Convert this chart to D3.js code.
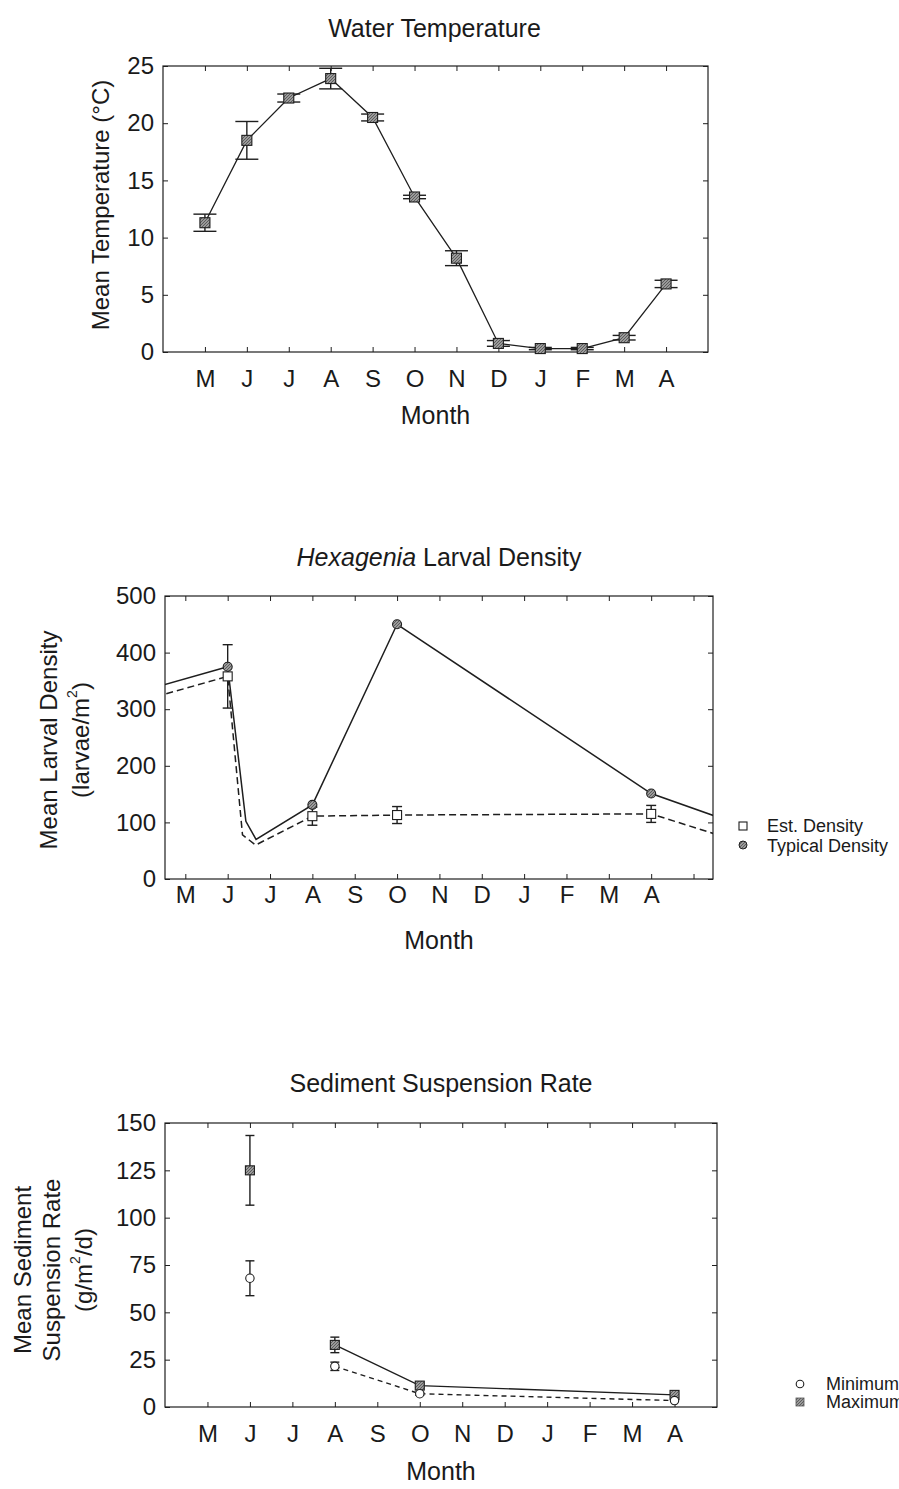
<!DOCTYPE html>
<html>
<head>
<meta charset="utf-8">
<script src="https://cdn.jsdelivr.net/npm/d3@7/dist/d3.min.js"></script>
<style>
  html, body { margin: 0; padding: 0; background: #fff; }
  svg { display: block; }
  text { font-family: "Liberation Sans", Arial, Helvetica, sans-serif; fill: #1a1a1a; }
</style>
</head>
<body>
<svg id="fig" width="899" height="1489"></svg>
<script>
// ---- shared month labels (May through April) ----
const monthLabels = ["M", "J", "J", "A", "S", "O", "N", "D", "J", "F", "M", "A"];
const monthIndex = [1, 2, 3, 4, 5, 6, 7, 8, 9, 10, 11, 12];

// ---- water temperature (°C), monthly means with error ----
const tempMean = [11.3, 18.5, 22.2, 23.9, 20.5, 13.55, 8.2, 0.75, 0.3, 0.3, 1.25, 5.95];
const tempErr  = [0.75, 1.65, 0.35, 0.9, 0.3, 0.15, 0.65, 0.25, 0.1, 0.1, 0.2, 0.32];
const tempTicks = [0, 5, 10, 15, 20, 25];

// ---- Hexagenia larval density (larvae/m²) ----
const densitySampleMonth = [2, 4, 6, 12];
const typicalDensity = [375, 131, 450, 151];
const estDensity     = [358, 111, 113, 115];
const estDensityErr  = [56, 16, 15, 15];
// line vertices (include the June–July decline and continuation past the frame)
const typicalLineMonth = [0.3, 2, 2.43, 2.67, 4, 6, 12, 13.7];
const typicalLineValue = [339, 375, 102, 70, 131, 450, 151, 106];
const estLineMonth     = [0.3, 2, 2.35, 2.66, 4, 6, 12, 13.7];
const estLineValue     = [322, 358, 78, 60, 111, 113, 115, 75];
const densityTicks = [0, 100, 200, 300, 400, 500];

// ---- sediment suspension rate (g/m²/d) ----
const sedimentMonth = [2, 4, 6, 12];
const maxRate = [125, 32.8, 11.3, 6.4];
const maxErr  = [18.4, 4.1, 1.0, 0.8];
const minRate = [68, 21.5, 7.0, 3.4];
const minErr  = [9.2, 2.2, 0.8, 0.5];
const sedimentTicks = [0, 25, 50, 75, 100, 125, 150];

const svg = d3.select("#fig");
const INK = "#1e1e1e";

// hatched grey fill used by the solid markers
const defs = svg.append("defs");
const pat = defs.append("pattern").attr("id", "hatch")
  .attr("patternUnits", "userSpaceOnUse").attr("width", 3).attr("height", 3);
pat.append("rect").attr("width", 3).attr("height", 3).attr("fill", "#9a9a9a");
pat.append("path").attr("d", "M0,3 L3,0").attr("stroke", "#555").attr("stroke-width", 0.9);

function frame(g, x, y, xTicks, yTicks, labelGap) {
  const [x0, x1] = x.range();
  const [y0, y1] = y.range();
  const xa = d3.axisBottom(x).tickValues(xTicks)
    .tickFormat(d => monthLabels[d - 1] || "")
    .tickSizeInner(-5).tickSizeOuter(0).tickPadding(labelGap);
  const ya = d3.axisLeft(y).tickValues(yTicks)
    .tickSizeInner(-5).tickSizeOuter(0).tickPadding(9);
  const gx = g.append("g").attr("transform", `translate(0,${y0})`).call(xa);
  const gy = g.append("g").attr("transform", `translate(${x0},0)`).call(ya);
  g.append("g").attr("transform", `translate(0,${y1})`)
    .call(d3.axisTop(x).tickValues(xTicks).tickFormat("").tickSizeInner(-5).tickSizeOuter(0));
  g.append("g").attr("transform", `translate(${x1},0)`)
    .call(d3.axisRight(y).tickValues(yTicks).tickFormat("").tickSizeInner(-5).tickSizeOuter(0));
  g.selectAll(".domain").remove();
  g.selectAll(".tick line").attr("stroke", INK).attr("stroke-width", 1);
  gx.selectAll("text").attr("font-size", 24).attr("fill", INK);
  gy.selectAll("text").attr("font-size", 24).attr("fill", INK);
  g.append("rect").attr("x", x0).attr("y", y1)
    .attr("width", x1 - x0).attr("height", y0 - y1)
    .attr("fill", "none").attr("stroke", INK).attr("stroke-width", 1.2);
}

function errorBars(g, xs, ys, es, x, y, capW) {
  const grp = g.append("g").attr("stroke", INK).attr("stroke-width", 1.4);
  xs.forEach((m, i) => {
    const cx = x(m), top = y(ys[i] + es[i]), bot = y(ys[i] - es[i]);
    grp.append("line").attr("x1", cx).attr("x2", cx).attr("y1", top).attr("y2", bot);
    grp.append("line").attr("x1", cx - capW / 2).attr("x2", cx + capW / 2).attr("y1", top).attr("y2", top);
    grp.append("line").attr("x1", cx - capW / 2).attr("x2", cx + capW / 2).attr("y1", bot).attr("y2", bot);
  });
}

function squares(g, xs, ys, x, y, size, fill) {
  g.append("g").selectAll("rect").data(xs).join("rect")
    .attr("x", (d) => x(d) - size / 2)
    .attr("y", (d, i) => y(ys[i]) - size / 2)
    .attr("width", size).attr("height", size)
    .attr("fill", fill).attr("stroke", INK).attr("stroke-width", 1.1);
}

function circles(g, xs, ys, x, y, r, fill) {
  g.append("g").selectAll("circle").data(xs).join("circle")
    .attr("cx", d => x(d)).attr("cy", (d, i) => y(ys[i])).attr("r", r)
    .attr("fill", fill).attr("stroke", INK).attr("stroke-width", 1.1);
}

function title(text, cx, baseline, italicWord) {
  const t = svg.append("text").attr("x", cx).attr("y", baseline)
    .attr("text-anchor", "middle").attr("font-size", 25).attr("fill", INK);
  if (italicWord) {
    t.append("tspan").attr("font-style", "italic").text(italicWord);
    t.append("tspan").text(text);
  } else {
    t.text(text);
  }
}

function xTitle(cx, baseline) {
  svg.append("text").attr("x", cx).attr("y", baseline).attr("text-anchor", "middle")
    .attr("font-size", 25).attr("fill", INK).text("Month");
}

function yTitle(lines, xs, cy) {
  lines.forEach((ln, i) => {
    const t = svg.append("text")
      .attr("transform", `translate(${xs[i]},${cy}) rotate(-90)`)
      .attr("text-anchor", "middle").attr("dominant-baseline", "central")
      .attr("font-size", 24).attr("fill", INK);
    ln.forEach(part => {
      const s = t.append("tspan").text(part.t);
      if (part.sup) s.attr("font-size", 14).attr("baseline-shift", "super");
    });
  });
}

const mid = s => (s.range()[0] + s.range()[1]) / 2;

// ================= Water Temperature =================
{
  const x = d3.scaleLinear().domain([0, 13]).range([163, 708]);
  const y = d3.scaleLinear().domain([0, 25]).range([352, 66]);
  const g = svg.append("g");
  frame(g, x, y, monthIndex, tempTicks, 18);
  const line = d3.line().x(d => x(d)).y((d, i) => y(tempMean[i]));
  g.append("path").attr("d", line(monthIndex))
    .attr("fill", "none").attr("stroke", INK).attr("stroke-width", 1.3);
  errorBars(g, monthIndex, tempMean, tempErr, x, y, 23);
  squares(g, monthIndex, tempMean, x, y, 10, "url(#hatch)");
  title("Water Temperature", mid(x) - 1, 37);
  xTitle(mid(x), 424);
  yTitle([[{ t: "Mean Temperature (°C)" }]], [100], 205);
}

// ================= Hexagenia Larval Density =================
{
  const x = d3.scaleLinear().domain([0.52, 13.46]).range([165, 713]);
  const y = d3.scaleLinear().domain([0, 500]).range([879, 596]);
  const g = svg.append("g");
  frame(g, x, y, monthIndex.concat([13]), densityTicks, 7);
  defs.append("clipPath").attr("id", "clipDensity").append("rect")
    .attr("x", 165).attr("y", 596).attr("width", 548).attr("height", 283);
  const lines = g.append("g").attr("clip-path", "url(#clipDensity)");
  const estLine = d3.line().x(d => x(d)).y((d, i) => y(estLineValue[i]));
  const typLine = d3.line().x(d => x(d)).y((d, i) => y(typicalLineValue[i]));
  lines.append("path").attr("d", estLine(estLineMonth))
    .attr("fill", "none").attr("stroke", INK).attr("stroke-width", 1.5)
    .attr("stroke-dasharray", "7,4");
  lines.append("path").attr("d", typLine(typicalLineMonth))
    .attr("fill", "none").attr("stroke", INK).attr("stroke-width", 1.5);
  errorBars(g, densitySampleMonth, estDensity, estDensityErr, x, y, 10);
  circles(g, densitySampleMonth, typicalDensity, x, y, 4.5, "url(#hatch)");
  squares(g, densitySampleMonth, estDensity, x, y, 9, "#fff");
  title(" Larval Density", mid(x), 566, "Hexagenia");
  xTitle(mid(x), 949);
  yTitle([[{ t: "Mean Larval Density" }], [{ t: "(larvae/m" }, { t: "2", sup: true }, { t: ")" }]], [48, 80], 740);

  // legend
  const lg = svg.append("g");
  lg.append("rect").attr("x", 739).attr("y", 822).attr("width", 8).attr("height", 8)
    .attr("fill", "#fff").attr("stroke", INK).attr("stroke-width", 1.1);
  lg.append("circle").attr("cx", 743).attr("cy", 845).attr("r", 4)
    .attr("fill", "url(#hatch)").attr("stroke", INK).attr("stroke-width", 1);
  lg.append("text").attr("x", 767).attr("y", 832).attr("font-size", 18).text("Est. Density");
  lg.append("text").attr("x", 767).attr("y", 852).attr("font-size", 18).text("Typical Density");
}

// ================= Sediment Suspension Rate =================
{
  const x = d3.scaleLinear().domain([0, 13]).range([165, 717]);
  const y = d3.scaleLinear().domain([0, 150]).range([1407, 1123]);
  const g = svg.append("g");
  frame(g, x, y, monthIndex, sedimentTicks, 18);
  const connected = [1, 2, 3];
  const maxLine = d3.line().x(i => x(sedimentMonth[i])).y(i => y(maxRate[i]));
  const minLine = d3.line().x(i => x(sedimentMonth[i])).y(i => y(minRate[i]));
  g.append("path").attr("d", minLine(connected))
    .attr("fill", "none").attr("stroke", INK).attr("stroke-width", 1.4)
    .attr("stroke-dasharray", "5,4");
  g.append("path").attr("d", maxLine(connected))
    .attr("fill", "none").attr("stroke", INK).attr("stroke-width", 1.4);
  errorBars(g, sedimentMonth, maxRate, maxErr, x, y, 9);
  errorBars(g, sedimentMonth, minRate, minErr, x, y, 9);
  squares(g, sedimentMonth, maxRate, x, y, 9, "url(#hatch)");
  circles(g, sedimentMonth, minRate, x, y, 4.2, "#fff");
  title("Sediment Suspension Rate", mid(x), 1092);
  xTitle(mid(x), 1480);
  yTitle([[{ t: "Mean Sediment" }], [{ t: "Suspension Rate" }], [{ t: "(g/m" }, { t: "2", sup: true }, { t: "/d)" }]],
    [22, 51, 83], 1270);

  // legend
  const lg = svg.append("g");
  lg.append("circle").attr("cx", 800).attr("cy", 1384).attr("r", 3.8)
    .attr("fill", "#fff").attr("stroke", INK).attr("stroke-width", 1.1);
  lg.append("rect").attr("x", 796).attr("y", 1398).attr("width", 8).attr("height", 8)
    .attr("fill", "url(#hatch)").attr("stroke", "#555").attr("stroke-width", 0.8);
  lg.append("text").attr("x", 826).attr("y", 1390).attr("font-size", 18).text("Minimum");
  lg.append("text").attr("x", 826).attr("y", 1408).attr("font-size", 18).text("Maximum");
}
</script>
</body>
</html>
